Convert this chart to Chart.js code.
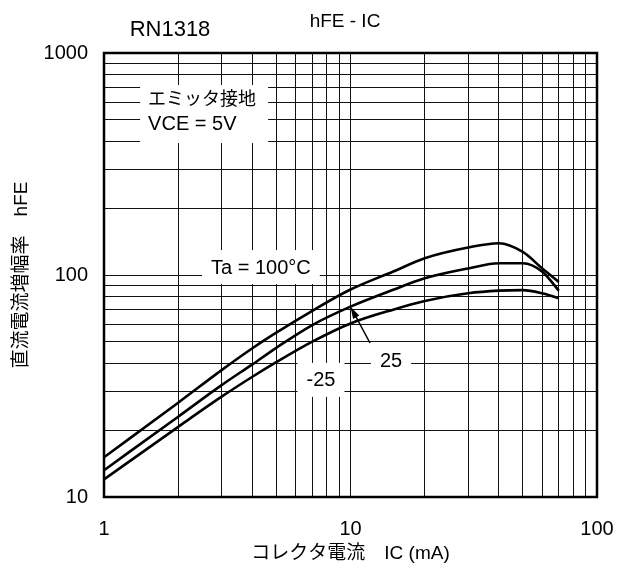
<!DOCTYPE html>
<html>
<head>
<meta charset="utf-8">
<script src="https://cdn.jsdelivr.net/npm/chart.js@4.4.1/dist/chart.umd.min.js"></script>
<style>
  html, body { margin: 0; padding: 0; background: #fff; }
  #wrap { width: 617px; height: 572px; }
</style>
</head>
<body>
<div id="wrap"><canvas id="hfeChart" width="617" height="572"></canvas></div>
<script>
const IC = [1, 2, 3, 4, 5, 7, 10, 15, 20, 30, 40, 50, 60, 70];
const hfeTa100 = [15.1, 26.6, 37.3, 46.8, 55.0, 69, 86, 104, 119, 133, 139, 127, 107, 93];
const hfeTa25 = [13.2, 23.0, 31.9, 39.6, 47.0, 59.5, 72, 86, 96.6, 107, 113, 113, 103.5, 85];
const hfeTaM25 = [12.0, 20.7, 28.3, 34.8, 40.5, 50.1, 60.5, 70, 76.4, 82.7, 85, 85.5, 82.7, 78.5];

const xGridValues = [1, 2, 3, 4, 5, 6, 7, 8, 9, 10, 20, 30, 40, 50, 60, 70, 80, 90, 100];
const yGridValues = [10, 20, 30, 40, 50, 60, 70, 80, 90, 100, 200, 300, 400, 500, 600, 700, 800, 900, 1000];
const xLabelValues = [1, 10, 100];
const yLabelValues = [10, 100, 1000];

const FONT = "'Liberation Sans', 'Noto Sans CJK JP', Arial, sans-serif";

// labels on the plot, anchored in data units
const notes = [
    { text: 'Ta = 100°C', x: 4.33, y: 108.6 },
    { text: '-25', x: 7.59, y: 33.7 },
    { text: '25', x: 14.6, y: 41.0 },
];

const toXY = (xs, ys) => xs.map((v, i) => ({ x: v, y: ys[i] }));

const sheetPlugin = {
    id: 'sheet',
    afterDatasetsDraw(chart) {
        const { ctx, chartArea: a, scales: { x, y } } = chart;
        ctx.save();
        ctx.textBaseline = 'middle';
        ctx.fillStyle = '#000';

        // condition box (top left)
        const bx = x.getPixelForValue(1.51);
        const l1 = y.getPixelForValue(614);
        const l2 = y.getPixelForValue(474);
        ctx.fillStyle = '#fff';
        ctx.fillRect(bx - 8, l1 - 15, 128, l2 - l1 + 33);
        ctx.fillStyle = '#000';
        ctx.textAlign = 'left';
        ctx.font = `18px ${FONT}`;
        ctx.fillText('エミッタ接地', bx, l1);
        ctx.font = `20px ${FONT}`;
        ctx.fillText('VCE = 5V', bx, l2);

        // curve labels
        ctx.textAlign = 'center';
        ctx.font = `20px ${FONT}`;
        notes.forEach((n) => {
            const px = x.getPixelForValue(n.x);
            const py = y.getPixelForValue(n.y);
            const w = ctx.measureText(n.text).width;
            ctx.fillStyle = '#fff';
            ctx.fillRect(px - w / 2 - 9, py - 17, w + 18, 34);
            ctx.fillStyle = '#000';
            ctx.fillText(n.text, px, py + 1);
        });

        // arrow from "25" to the 25°C curve
        const tx = x.getPixelForValue(12.0), ty = y.getPixelForValue(49.4);
        const hx = x.getPixelForValue(IC[6]), hy = y.getPixelForValue(hfeTa25[6]);
        const ang = Math.atan2(hy - ty, hx - tx);
        ctx.strokeStyle = '#000';
        ctx.lineWidth = 1.5;
        ctx.beginPath();
        ctx.moveTo(tx, ty);
        ctx.lineTo(hx - 8 * Math.cos(ang), hy - 8 * Math.sin(ang));
        ctx.stroke();
        ctx.beginPath();
        ctx.moveTo(hx, hy);
        ctx.lineTo(hx - 12 * Math.cos(ang) + 3.5 * Math.sin(ang), hy - 12 * Math.sin(ang) - 3.5 * Math.cos(ang));
        ctx.lineTo(hx - 12 * Math.cos(ang) - 3.5 * Math.sin(ang), hy - 12 * Math.sin(ang) + 3.5 * Math.cos(ang));
        ctx.closePath();
        ctx.fill();

        // heavy frame
        ctx.lineWidth = 2.5;
        ctx.strokeRect(a.left, a.top, a.right - a.left, a.bottom - a.top);
        ctx.restore();
    },
    afterDraw(chart) {
        const { ctx } = chart;
        ctx.save();
        ctx.fillStyle = '#000';
        ctx.textBaseline = 'middle';
        ctx.textAlign = 'center';
        ctx.font = `22px ${FONT}`;
        ctx.fillText('RN1318', 170, 30);
        ctx.font = `19px ${FONT}`;
        ctx.fillText('hFE - IC', 345, 22);
        ctx.restore();
    },
};

const lineStyle = {
    borderColor: '#000',
    borderWidth: 2.6,
    pointRadius: 0,
    fill: false,
    cubicInterpolationMode: 'monotone',
};

new Chart(document.getElementById('hfeChart'), {
    type: 'line',
    data: {
        datasets: [
            { label: 'Ta = 100°C', data: toXY(IC, hfeTa100), ...lineStyle },
            { label: 'Ta = 25°C', data: toXY(IC, hfeTa25), ...lineStyle },
            { label: 'Ta = -25°C', data: toXY(IC, hfeTaM25), ...lineStyle },
        ],
    },
    options: {
        responsive: false,
        animation: false,
        devicePixelRatio: 1,
        layout: { padding: { top: 53, right: 20, bottom: 0, left: 0 } },
        plugins: { legend: { display: false }, tooltip: { enabled: false } },
        scales: {
            x: {
                type: 'logarithmic',
                min: 1,
                max: 100,
                afterBuildTicks: (s) => { s.ticks = xGridValues.map((v) => ({ value: v })); },
                afterFit: (s) => { s.height = 75; s.paddingLeft = 0; s.paddingRight = 0; },
                ticks: {
                    autoSkip: false,
                    maxRotation: 0,
                    padding: 20,
                    color: '#000',
                    font: { family: FONT, size: 20 },
                    callback: (v) => (xLabelValues.includes(v) ? String(v) : ''),
                },
                grid: { color: '#111', lineWidth: 1, drawTicks: false },
                border: { display: false },
                title: {
                    display: true,
                    text: 'コレクタ電流　IC (mA)',
                    color: '#000',
                    font: { family: FONT, size: 19 },
                    padding: { top: 0, bottom: 7 },
                },
            },
            y: {
                type: 'logarithmic',
                min: 10,
                max: 1000,
                afterBuildTicks: (s) => { s.ticks = yGridValues.map((v) => ({ value: v })); },
                afterFit: (s) => { s.width = 104; s.paddingTop = 0; s.paddingBottom = 0; },
                ticks: {
                    autoSkip: false,
                    padding: 16,
                    color: '#000',
                    font: { family: FONT, size: 20 },
                    callback: (v) => (yLabelValues.includes(v) ? String(v) : ''),
                },
                grid: { color: '#111', lineWidth: 1, drawTicks: false },
                border: { display: false },
                title: {
                    display: true,
                    text: '直流電流増幅率　hFE',
                    color: '#000',
                    font: { family: FONT, size: 19 },
                    padding: { top: 10, bottom: 0 },
                },
            },
        },
    },
    plugins: [sheetPlugin],
});
</script>
</body>
</html>
